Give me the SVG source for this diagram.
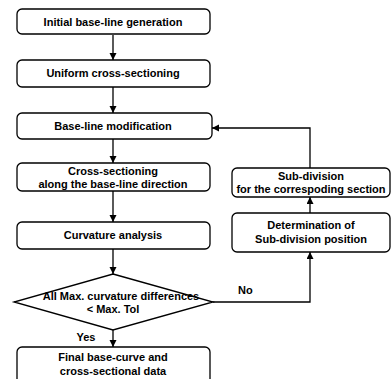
<svg xmlns="http://www.w3.org/2000/svg" width="392" height="379" viewBox="0 0 392 379">
<defs>
<marker id="ah" markerWidth="7" markerHeight="8" refX="7" refY="3.5" orient="auto" markerUnits="userSpaceOnUse">
<path d="M0,0 L7,3.5 L0,7 z" fill="#000"/>
</marker>
<style>
.box{fill:#fff;stroke:#000;stroke-width:1.3}
.t{font-family:"Liberation Sans",Arial,sans-serif;font-size:11px;font-weight:bold;fill:#000;text-anchor:middle}
.c{fill:none;stroke:#000;stroke-width:1.3}
</style>
</defs>
<rect width="392" height="379" fill="#fff"/>
<g id="connectors">
<line class="c" x1="113" y1="35" x2="113" y2="60" marker-end="url(#ah)"/>
<line class="c" x1="113" y1="87" x2="113" y2="113" marker-end="url(#ah)"/>
<line class="c" x1="113" y1="139" x2="113" y2="163" marker-end="url(#ah)"/>
<line class="c" x1="113" y1="191" x2="113" y2="222" marker-end="url(#ah)"/>
<line class="c" x1="113" y1="249" x2="113" y2="274" marker-end="url(#ah)"/>
<line class="c" x1="113" y1="330" x2="113" y2="347" marker-end="url(#ah)"/>
<polyline class="c" points="213,302 310,302 310,252" marker-end="url(#ah)"/>
<line class="c" x1="310" y1="213" x2="310" y2="197" marker-end="url(#ah)"/>
<polyline class="c" points="310,168 310,128 212,128" marker-end="url(#ah)"/>
<text class="t" x="238" y="294" style="text-anchor:start">No</text>
<text class="t" x="86" y="341">Yes</text>
</g>
<g id="n1"><rect class="box" x="17" y="9" width="193" height="25" rx="5"/><text class="t" x="113" y="26">Initial base-line generation</text></g>
<g id="n2"><rect class="box" x="17" y="60" width="193" height="27" rx="5"/><text class="t" x="113" y="77">Uniform cross-sectioning</text></g>
<g id="n3"><rect class="box" x="17" y="113" width="195" height="26" rx="5"/><text class="t" x="113" y="130">Base-line modification</text></g>
<g id="n4"><rect class="box" x="17" y="163" width="193" height="28" rx="5"/><text class="t" x="113" y="175">Cross-sectioning</text><text class="t" x="113" y="188">along the base-line direction</text></g>
<g id="n5"><rect class="box" x="17" y="222" width="193" height="27" rx="5"/><text class="t" x="113" y="239">Curvature analysis</text></g>
<g id="n6"><polygon class="box" points="113,274 213,302 113,330 14,302"/><text class="t" x="121" y="300">All Max. curvature differences</text><text class="t" x="113" y="313">&lt; Max. Tol</text></g>
<g id="n7"><rect class="box" x="17" y="347" width="193" height="40" rx="5"/><text class="t" x="113" y="361">Final base-curve and</text><text class="t" x="113" y="375">cross-sectional data</text></g>
<g id="n8"><rect class="box" x="232" y="168" width="158" height="29" rx="5"/><text class="t" x="311" y="180">Sub-division</text><text class="t" x="311" y="193">for the correspoding section</text></g>
<g id="n9"><rect class="box" x="232" y="213" width="158" height="39" rx="5"/><text class="t" x="311" y="229">Determination of</text><text class="t" x="311" y="243">Sub-division position</text></g>
</svg>
